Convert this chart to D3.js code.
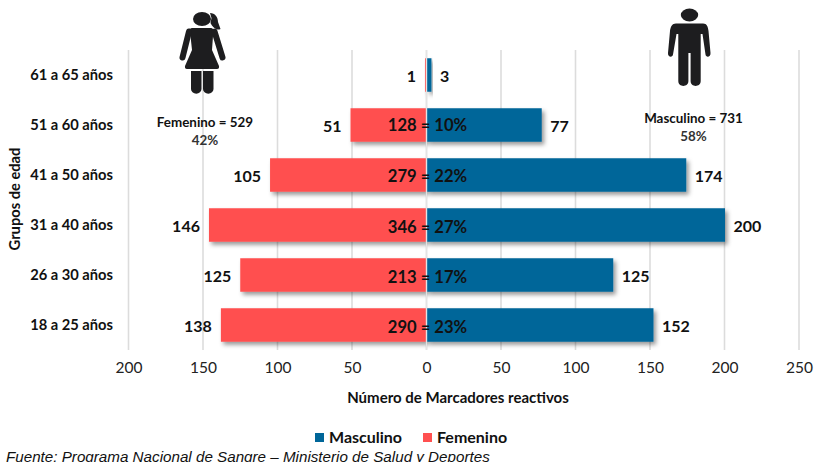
<!DOCTYPE html>
<html><head><meta charset="utf-8">
<script src="https://cdn.jsdelivr.net/npm/d3@7"></script>
<style>html,body{margin:0;padding:0;background:#fff}svg{display:block}text{font-family:Lato,Carlito,sans-serif}</style>
</head><body><div id="c"></div>
<script>
const categories=["61 a 65 años","51 a 60 años","41 a 50 años","31 a 40 años","26 a 30 años","18 a 25 años"];
const femenino=[1,51,105,146,125,138];
const masculino=[3,77,174,200,125,152];
const centerLabels=["","128 = 10%","279 = 22%","346 = 27%","213 = 17%","290 = 23%"];
const ticks=[-200,-150,-100,-50,0,50,100,150,200,250];
const axisTitle="Número de Marcadores reactivos";
const yTitle="Grupos de edad";
const source="Fuente: Programa Nacional de Sangre – Ministerio de Salud y Deportes";
const W=815,H=462,blue="#006699",red="#FF5050";
const svg=d3.select("#c").append("svg").attr("width",W).attr("height",H);
const f=svg.append("defs").append("filter").attr("id","sh").attr("x","-10%").attr("y","-20%").attr("width","125%").attr("height","150%");
f.append("feDropShadow").attr("dx",2.5).attr("dy",3).attr("stdDeviation",2.2).attr("flood-color","#000").attr("flood-opacity",.4);
const x=d3.scaleLinear().domain([-200,250]).range([128.5,799]);
const y=d3.scaleBand().domain(categories).range([50,350]).paddingInner(.33).paddingOuter(.165);
const cy=c=>y(c)+y.bandwidth()/2;
svg.append("g").selectAll("line").data(ticks).join("line")
 .attr("x1",d=>x(d)).attr("x2",d=>x(d)).attr("y1",50).attr("y2",350)
 .attr("stroke","#dcdcdc").attr("stroke-width",1.6);
const ax=svg.append("g").attr("transform","translate(0,350)").call(d3.axisBottom(x).tickValues(ticks).tickFormat(d=>Math.abs(d)).tickSize(0).tickPadding(12));
ax.select(".domain").remove();
ax.selectAll("text").attr("font-size",15.5).attr("fill","#222").style("font-family","Lato,sans-serif");
svg.append("g").selectAll("rect").data(categories).join("rect")
 .attr("x",(c,i)=>x(-femenino[i])).attr("width",(c,i)=>x(0)-x(-femenino[i]))
 .attr("y",c=>y(c)).attr("height",y.bandwidth()).attr("fill",red).attr("filter","url(#sh)");
svg.append("g").selectAll("rect").data(categories).join("rect")
 .attr("x",x(0)+.5).attr("width",(c,i)=>x(masculino[i])-x(0))
 .attr("y",c=>y(c)).attr("height",y.bandwidth()).attr("fill",blue).attr("filter","url(#sh)");
svg.append("line").attr("x1",x(0)).attr("x2",x(0)).attr("y1",50).attr("y2",350).attr("stroke","#e4e4e4").attr("stroke-width",1.4);
const bold=(g,sz)=>g.attr("font-weight",700).attr("font-size",sz).attr("fill","#111");
bold(svg.append("g").selectAll("text").data(categories).join("text")
 .attr("x",113).attr("y",cy).attr("dy",".35em").attr("text-anchor","end").text(d=>d),14.7);
bold(svg.append("g").selectAll("text").data(categories).join("text")
 .attr("x",(c,i)=>x(-femenino[i])-9).attr("y",c=>cy(c)+1).attr("dy",".35em").attr("text-anchor","end").text((c,i)=>femenino[i]),16);
bold(svg.append("g").selectAll("text").data(categories).join("text")
 .attr("x",(c,i)=>x(masculino[i])+9).attr("y",c=>cy(c)+1).attr("dy",".35em").text((c,i)=>masculino[i]),16);
bold(svg.append("g").selectAll("text").data(categories).join("text")
 .attr("x",x(0)+1).attr("y",(c,i)=>cy(c)+Math.min(2.5,i*.6)).attr("dy",".35em").attr("text-anchor","middle").text((c,i)=>centerLabels[i]),16.6);
bold(svg.append("text").attr("x",458).attr("y",403).attr("text-anchor","middle").text(axisTitle),15);
bold(svg.append("text").attr("transform","translate(20,199) rotate(-90)").attr("text-anchor","middle").text(yTitle),14.7);
bold(svg.append("text").attr("x",205).attr("y",127).attr("text-anchor","middle").text("Femenino = 529"),13.4);
bold(svg.append("text").attr("x",205).attr("y",145).attr("text-anchor","middle").text("42%"),13.4).attr("fill","#333");
bold(svg.append("text").attr("x",693.5).attr("y",123).attr("text-anchor","middle").text("Masculino = 731"),13.4);
bold(svg.append("text").attr("x",693.5).attr("y",141).attr("text-anchor","middle").text("58%"),13.4).attr("fill","#333");
const leg=[["Masculino",blue,315,329],["Femenino",red,423,437]];
leg.forEach(l=>{svg.append("rect").attr("x",l[2]).attr("y",433).attr("width",9).attr("height",9).attr("fill",l[1]);
 bold(svg.append("text").attr("x",l[3]).attr("y",443).text(l[0]),16);});
svg.append("text").attr("x",6).attr("y",462).attr("font-size",15.2).attr("font-style","italic").attr("fill","#111").style("font-family","Liberation Sans").text(source);
const ink="#1d1d1f";
const fem=svg.append("g").attr("fill",ink);
fem.append("ellipse").attr("cx",202).attr("cy",19).attr("rx",9).attr("ry",7);
fem.append("path").attr("d","M210 13 c5 0 8 4 8 9 l2.5 7 c-4 2 -8 -2 -10 -6 l1 -5Z");
fem.append("path").attr("d","M192 28 H211 C214 28 214 32 213 36 L212 50 L219 66 Q219.5 69 217 69 H187 Q184.5 69 185 66 L192 50 L190.5 36 C189.5 32 189 28 192 28Z");
fem.append("path").attr("fill","none").attr("stroke",ink).attr("stroke-width",6).attr("stroke-linecap","round").attr("d","M189 31.5 L182.5 57.5 M214.5 31.5 L222.5 57.5");
fem.append("path").attr("d","M191 71 h10.5 v18 a5 4.5 0 0 1 -10.5 0Z M203 71 h10.5 v18 a5 4.5 0 0 1 -10.5 0Z");
const mal=svg.append("g").attr("fill",ink);
mal.append("ellipse").attr("cx",689.5).attr("cy",15).attr("rx",8.7).attr("ry",6.5);
mal.append("path").attr("d","M676 23.5 H703 C707 23.5 708 27 708.5 31 L710.5 53 C711 57 706 58 705.5 54.5 L702.5 34 L700.7 34 V81 C700.7 87.5 690.6 87.5 690.6 81 V53 H688.4 V81 C688.4 87.5 678.3 87.5 678.3 81 V34 L676.5 34 L673 54.5 C672.5 58 667.5 57 668 53 L670 31 C670.5 27 672 23.5 676 23.5Z");
</script></body></html>
